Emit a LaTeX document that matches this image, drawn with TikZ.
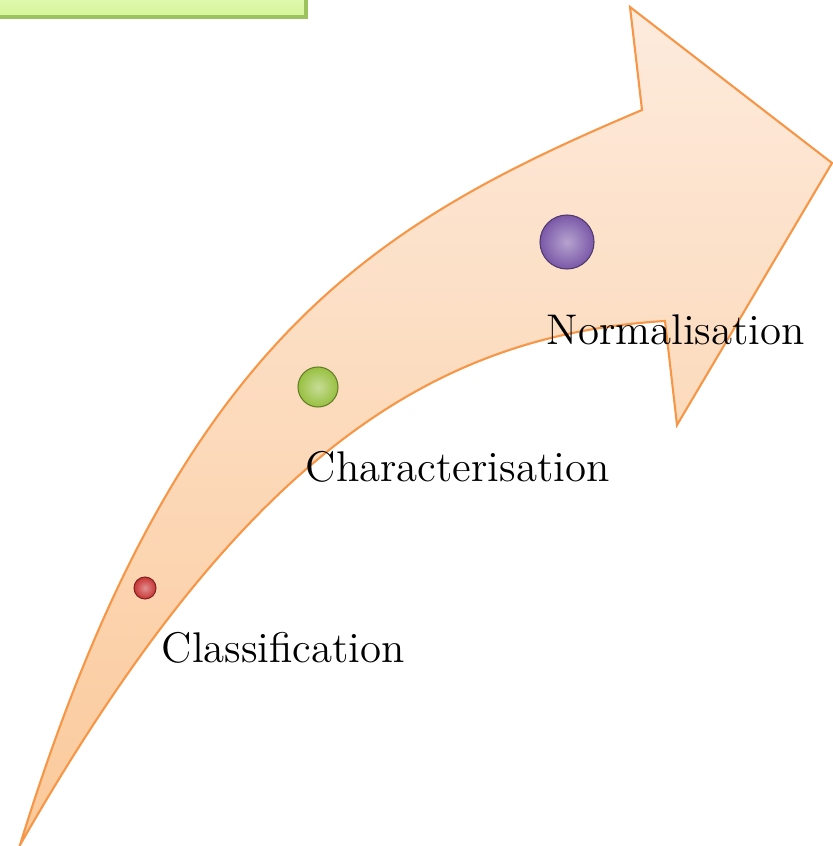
\documentclass[tikz,border=0pt]{standalone}
\usepackage{xcolor}
\usepackage{tikz}
\usetikzlibrary{positioning, shadings}

\definecolor{arrowline}{HTML}{F79646}
\definecolor{arrowtop}{HTML}{FDEBDD}
\definecolor{arrowbot}{HTML}{FBC99A}
\definecolor{boxtop}{HTML}{E2FAB4}
\definecolor{boxbot}{HTML}{D6F59C}
\definecolor{boxline}{HTML}{9DC35F}
\definecolor{dotred}{HTML}{C83434}
\definecolor{dotgreen}{HTML}{98C040}
\definecolor{dotpurple}{HTML}{7A58A8}

\begin{document}
\begin{tikzpicture}[
  x=0.01cm, y=-0.01cm,
  dot/.style={circle, inner sep=0pt, draw=#1!65!black, line width=0.3pt,
              inner color=#1!55!white, outer color=#1},
  stage/.style={anchor=base west, inner sep=0pt, font=\fontsize{12.2}{14}\selectfont}
]
  \useasboundingbox (0,0) rectangle (832,846);
  % green box cut by the top edge
  \draw[boxline, top color=boxtop, bottom color=boxbot, line width=1pt] (-10,-10) rectangle (306,17);
  % curved arrow
  \draw[arrowline, line width=0.6pt, top color=arrowtop, bottom color=arrowbot]
    (20,845) .. controls (175,343) and (370,225) .. (642,110)
    -- (630,7) -- (832,163) -- (677,425) -- (665,321)
    .. controls (430,335) and (240,460) .. (20,845) -- cycle;
  \node[dot=dotred, minimum size=0.22cm] (cls) at (145,588) {};
  \node[dot=dotgreen, minimum size=0.40cm] (chr) at (318,387) {};
  \node[dot=dotpurple, minimum size=0.54cm] (nrm) at (567,242) {};
  \node[stage] (clslabel) at (161,662) {Classification};
  \node[stage] (chrlabel) at (305,481) {Characterisation};
  \node[stage] (nrmlabel) at (546,344) {Normalisation};
\end{tikzpicture}
\end{document}
